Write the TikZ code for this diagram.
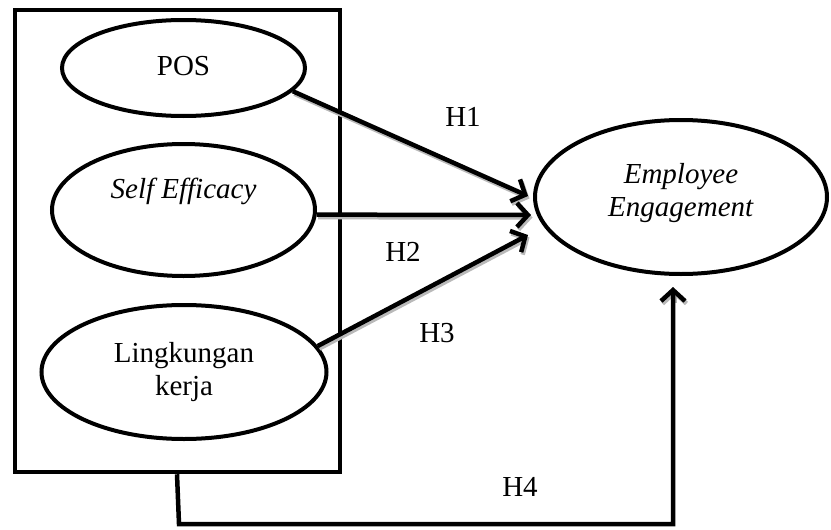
\documentclass[tikz,border=0pt]{standalone}
\usepackage{fontspec}
\setmainfont{Liberation Serif}
\usetikzlibrary{shapes.geometric,arrows.meta}
\begin{document}
\begin{tikzpicture}[x=1pt,y=-1pt,
  ell/.style={draw,ellipse,line width=4pt,inner sep=0pt,align=center,font=\fontsize{29}{33}\selectfont},
  tipstyle/.style={-{Straight Barb[length=11pt,width=24pt]}},
  conn/.style={line width=4.5pt,tipstyle},
  shadow/.style={conn,draw=gray!55,transform canvas={shift={(1.5pt,-2.5pt)}}},
  lbl/.style={font=\fontsize{29}{33}\selectfont,inner sep=0pt}]
\useasboundingbox (0,0) rectangle (831,530);
\node[draw,line width=4.5pt,minimum width=325pt,minimum height=462pt,inner sep=0pt] (box) at (177.5,241) {};
\node[ell,minimum width=243pt,minimum height=96pt] (pos) at (183.5,68) {\raisebox{5pt}{POS}};
\node[ell,minimum width=263pt,minimum height=132pt] (se) at (183.5,210) {\textit{Self Efficacy}\\\strut};
\node[ell,minimum width=285pt,minimum height=134pt] (lk) at (184,372) {Lingkungan\\kerja};
\node[ell,minimum width=292pt,minimum height=154pt] (ee) at (681,197) {\textit{Employee}\\\textit{Engagement}\\[-19pt]\mbox{}};
% shadows
\draw[shadow] (pos.-12) -- ([shift={(-5,-1)}]ee.west);
\draw[shadow] (se.-2) -- ([shift={(-2,18)}]ee.west);
\draw[shadow] (lk.11) -- ([shift={(-5,38)}]ee.west);
\draw[shadow] (673,300) -- ([yshift=-11pt]ee.south -| 673,0);
% connectors
\draw[conn] (pos.-12) -- ([shift={(-5,-1)}]ee.west);
\draw[conn] (se.-2) -- ([shift={(-2,18)}]ee.west);
\draw[conn] (lk.11) -- ([shift={(-5,38)}]ee.west);
\coordinate (c1) at (179,524);
\coordinate (c2) at (673,524);
\draw[conn] ([xshift=-0.5pt]box.south) -- (c1) -- (c2) -- ([yshift=-11pt]ee.south -| c2);
\node[lbl] (h1) at (463,117) {H1};
\node[lbl] (h2) at (403,252) {H2};
\node[lbl] (h3) at (437,333) {H3};
\node[lbl] (h4) at (520,487) {H4};
\end{tikzpicture}
\end{document}
